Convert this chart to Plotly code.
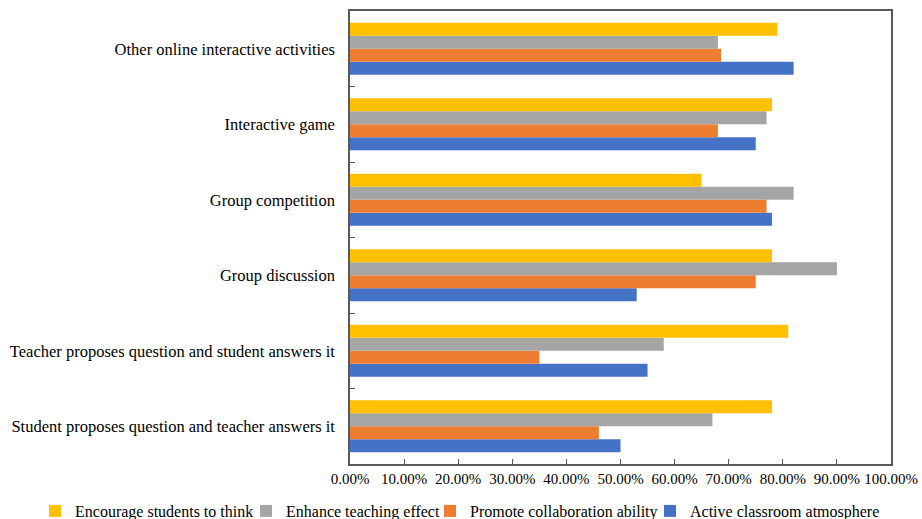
import plotly.graph_objects as go

categories = [
    "Student proposes question and teacher answers it",
    "Teacher proposes question and student answers it",
    "Group discussion",
    "Group competition",
    "Interactive game",
    "Other online interactive activities",
]
active = [0.50, 0.55, 0.53, 0.78, 0.75, 0.82]
promote = [0.46, 0.35, 0.75, 0.77, 0.68, 0.686]
enhance = [0.67, 0.58, 0.90, 0.82, 0.77, 0.68]
encourage = [0.78, 0.81, 0.78, 0.65, 0.78, 0.79]

series = [
    ("Active classroom atmosphere", active, "#4472C4", "legend4"),
    ("Promote collaboration ability", promote, "#ED7D31", "legend3"),
    ("Enhance teaching effect", enhance, "#A5A5A5", "legend2"),
    ("Encourage students to think", encourage, "#FFC000", "legend"),
]

xticks = [i / 10 for i in range(11)]

fig = go.Figure()
for name, vals, col, lg in series:
    fig.add_trace(go.Bar(
        y=categories, x=vals, name=name, orientation="h",
        marker=dict(color=col, line=dict(width=0)),
        legend=lg,
    ))

font_family = "Liberation Serif"
L, R, T, B = 350, 31, 11, 55
W, H = 922, 519
# approximate left edge of each legend entry (pixels)
legend_left = {"legend": 35, "legend2": 246, "legend3": 430, "legend4": 650}
legend_mid_y = 511
legend_layout = {}
for lg, px in legend_left.items():
    legend_layout[lg] = dict(
        orientation="h",
        xref="container", yref="container",
        x=px / W, xanchor="left",
        y=(H - legend_mid_y) / H, yanchor="middle",
        font=dict(size=16, family=font_family, color="#000000"),
        itemwidth=30, borderwidth=0, bgcolor="rgba(0,0,0,0)",
    )

fig.update_layout(
    width=W, height=H,
    margin=dict(l=L, r=R, t=T, b=B, autoexpand=False),
    paper_bgcolor="white", plot_bgcolor="white",
    barmode="group", bargap=0.31, bargroupgap=0,
    font=dict(family=font_family, size=16.5, color="#000000"),
    showlegend=True,
    xaxis=dict(
        range=[0, 1], tickvals=xticks, tickformat=".2%",
        showgrid=False, zeroline=False,
        showline=True, linecolor="#595959", linewidth=1.5, mirror=True,
        ticks="inside", ticklen=5, tickcolor="#595959", tickwidth=1,
        tickfont=dict(size=15),
    ),
    yaxis=dict(
        type="category", categoryorder="array", categoryarray=categories,
        showgrid=False, zeroline=False,
        showline=True, linecolor="#595959", linewidth=1.5, mirror=True,
        ticks="inside", ticklen=5, tickcolor="#595959", tickwidth=1,
        tickson="boundaries", ticklabelstandoff=10,
        tickfont=dict(size=16.5),
    ),
    **legend_layout,
)

fig.write_html("out.html")
